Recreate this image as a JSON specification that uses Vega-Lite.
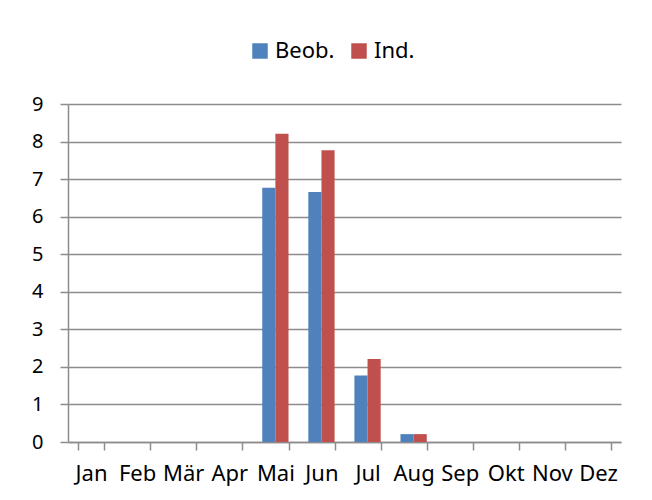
{
  "$schema": "https://vega.github.io/schema/vega-lite/v6.json",
  "autosize": {"type": "none"},
  "width": 553,
  "height": 338,
  "padding": {"left": 68, "top": 104, "right": 31, "bottom": 58},
  "background": "white",
  "data": {
    "values": [
      {"Monat": "Jan", "Serie": "Beob.", "Wert": 0},
      {"Monat": "Jan", "Serie": "Ind.", "Wert": 0},
      {"Monat": "Feb", "Serie": "Beob.", "Wert": 0},
      {"Monat": "Feb", "Serie": "Ind.", "Wert": 0},
      {"Monat": "Mär", "Serie": "Beob.", "Wert": 0},
      {"Monat": "Mär", "Serie": "Ind.", "Wert": 0},
      {"Monat": "Apr", "Serie": "Beob.", "Wert": 0},
      {"Monat": "Apr", "Serie": "Ind.", "Wert": 0},
      {"Monat": "Mai", "Serie": "Beob.", "Wert": 6.77},
      {"Monat": "Mai", "Serie": "Ind.", "Wert": 8.21},
      {"Monat": "Jun", "Serie": "Beob.", "Wert": 6.66},
      {"Monat": "Jun", "Serie": "Ind.", "Wert": 7.77},
      {"Monat": "Jul", "Serie": "Beob.", "Wert": 1.77},
      {"Monat": "Jul", "Serie": "Ind.", "Wert": 2.21},
      {"Monat": "Aug", "Serie": "Beob.", "Wert": 0.21},
      {"Monat": "Aug", "Serie": "Ind.", "Wert": 0.21},
      {"Monat": "Sep", "Serie": "Beob.", "Wert": 0},
      {"Monat": "Sep", "Serie": "Ind.", "Wert": 0},
      {"Monat": "Okt", "Serie": "Beob.", "Wert": 0},
      {"Monat": "Okt", "Serie": "Ind.", "Wert": 0},
      {"Monat": "Nov", "Serie": "Beob.", "Wert": 0},
      {"Monat": "Nov", "Serie": "Ind.", "Wert": 0},
      {"Monat": "Dez", "Serie": "Beob.", "Wert": 0},
      {"Monat": "Dez", "Serie": "Ind.", "Wert": 0}
    ]
  },
  "mark": {"type": "bar"},
  "encoding": {
    "x": {
      "field": "Monat",
      "type": "nominal",
      "sort": ["Jan", "Feb", "Mär", "Apr", "Mai", "Jun", "Jul", "Aug", "Sep", "Okt", "Nov", "Dez"],
      "scale": {"paddingInner": 0.43, "paddingOuter": 0.215},
      "axis": {
        "title": null,
        "labelAngle": 0,
        "tickBand": "extent",
        "tickSize": 8,
        "labelPadding": 13,
        "labelFontSize": 22,
        "labelOverlap": false,
        "grid": false
      }
    },
    "xOffset": {
      "field": "Serie",
      "type": "nominal",
      "sort": ["Beob.", "Ind."],
      "scale": {"paddingInner": 0, "paddingOuter": 0}
    },
    "y": {
      "field": "Wert",
      "type": "quantitative",
      "scale": {"domain": [0, 9], "nice": false},
      "axis": {
        "title": null,
        "values": [0, 1, 2, 3, 4, 5, 6, 7, 8, 9],
        "tickSize": 8,
        "labelPadding": 17,
        "labelFontSize": 20,
        "grid": true
      }
    },
    "color": {
      "field": "Serie",
      "type": "nominal",
      "sort": ["Beob.", "Ind."],
      "scale": {"domain": ["Beob.", "Ind."], "range": ["#4F81BD", "#C0504D"]},
      "legend": {
        "title": null,
        "orient": "none",
        "direction": "horizontal",
        "legendX": 181,
        "legendY": -64,
        "symbolType": "square",
        "symbolSize": 240,
        "symbolStrokeWidth": 0,
        "columnPadding": 13,
        "labelOffset": 4
      }
    }
  },
  "config": {
    "view": {"stroke": null},
    "font": "Noto Sans",
    "axis": {
      "labelFont": "Noto Sans",
      "labelColor": "black",
      "domainColor": "#8c8c8c",
      "domainWidth": 1.5,
      "tickColor": "#8c8c8c",
      "tickWidth": 1.5,
      "gridColor": "#8c8c8c",
      "gridWidth": 1.5,
      "gridOpacity": 1
    },
    "legend": {
      "labelFont": "Noto Sans",
      "labelFontSize": 22,
      "labelColor": "black"
    }
  }
}
